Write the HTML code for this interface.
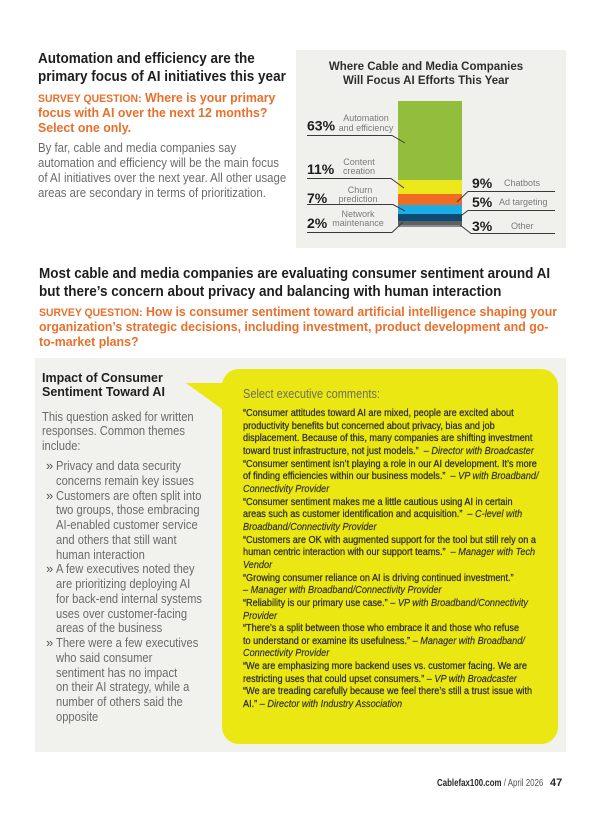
<!DOCTYPE html>
<html><head><meta charset="utf-8">
<style>
html,body{margin:0;padding:0;}
body{width:600px;height:819px;background:#ffffff;position:relative;overflow:hidden;font-family:"Liberation Sans",sans-serif;}
.t{position:absolute;white-space:nowrap;transform-origin:0 0;font-family:"Liberation Sans",sans-serif;}
.h{font-weight:bold;font-size:15px;line-height:18px;color:#1e1e1e;transform:scaleX(0.9);}
.q{font-weight:bold;font-size:13px;line-height:14.5px;color:#e8702c;transform:scaleX(0.95);}
.q .s{font-size:11px;}
.g{font-size:13px;color:#6b6b6b;}
.y{font-size:10.5px;line-height:12.65px;color:#2b2b2b;transform:scaleX(0.87);-webkit-text-stroke:0.25px #2b2b2b;}
.y i{-webkit-text-stroke:0.15px #2b2b2b;}
</style></head>
<body>

<!-- Top-left text -->
<div class="t h" style="left:38px;top:50px;">Automation and efficiency are the<br>primary focus of AI initiatives this year</div>
<div class="t q" style="left:38px;top:90.75px;"><span class="s">SURVEY QUESTION:</span> Where is your primary<br>focus with AI over the next 12 months?<br>Select one only.</div>
<div class="t g" style="left:38px;top:139.5px;line-height:15px;transform:scaleX(0.876);">By far, cable and media companies say<br>automation and efficiency will be the main focus<br>of AI initiatives over the next year. All other usage<br>areas are secondary in terms of prioritization.</div>

<!-- Chart -->
<svg style="position:absolute;left:296px;top:50px;" width="270" height="198" viewBox="296 50 270 198" xmlns="http://www.w3.org/2000/svg" font-family="Liberation Sans, sans-serif">
  <rect x="296" y="50" width="270" height="198" fill="#f0f0ed"/>
  <text x="426" y="70" text-anchor="middle" font-size="11.5" font-weight="bold" fill="#2e2e2e">Where Cable and Media Companies</text>
  <text x="426" y="84" text-anchor="middle" font-size="11.5" font-weight="bold" fill="#2e2e2e">Will Focus AI Efforts This Year</text>
  <rect x="398" y="101" width="64" height="79" fill="#93bd3c"/>
  <rect x="398" y="180" width="64" height="14" fill="#ede81b"/>
  <rect x="398" y="194" width="64" height="11" fill="#f06c23"/>
  <rect x="398" y="205" width="64" height="9" fill="#19afe6"/>
  <rect x="398" y="214" width="64" height="7" fill="#0f4a74"/>
  <rect x="398" y="221" width="64" height="4" fill="#5f6062"/>
  <rect x="398" y="225" width="64" height="2" fill="#8a8b8d"/>
  <g fill="none" stroke="#3a3a3a" stroke-width="1">
    <polyline points="307,135.5 392,135.5 405,143"/>
    <polyline points="307,178.5 391,178.5 404,188"/>
    <polyline points="307,204.5 393,204.5 405,211"/>
    <polyline points="307,232.5 392,232.5 403,222"/>
    <polyline points="555,191.5 468,191.5 457,202"/>
    <polyline points="555,210.5 468,210.5 458,218"/>
    <polyline points="555,233.5 471,233.5 460,225"/>
  </g>
  <g font-size="14" font-weight="bold" fill="#1e1e1e">
    <text x="307" y="130.5">63%</text>
    <text x="307" y="174">11%</text>
    <text x="307" y="203">7%</text>
    <text x="307" y="228">2%</text>
    <text x="472" y="188">9%</text>
    <text x="472" y="207">5%</text>
    <text x="472" y="231">3%</text>
  </g>
  <g font-size="9" fill="#7b7b7b" text-anchor="middle">
    <text x="366" y="121">Automation</text>
    <text x="366" y="131">and efficiency</text>
    <text x="359" y="165">Content</text>
    <text x="359" y="174">creation</text>
    <text x="360" y="193">Churn</text>
    <text x="358" y="202">prediction</text>
    <text x="358" y="217">Network</text>
    <text x="358" y="226">maintenance</text>
  </g>
  <g font-size="9" fill="#7b7b7b">
    <text x="504" y="186">Chatbots</text>
    <text x="499" y="205">Ad targeting</text>
    <text x="511" y="229">Other</text>
  </g>
</svg>

<!-- Section 2 heading -->
<div class="t h" style="left:39px;top:265px;">Most cable and media companies are evaluating consumer sentiment around AI<br>but there’s concern about privacy and balancing with human interaction</div>
<div class="t q" style="left:39px;top:304.75px;"><span class="s">SURVEY QUESTION:</span> How is consumer sentiment toward artificial intelligence shaping your<br>organization’s strategic decisions, including investment, product development and go-<br>to-market plans?</div>

<!-- Bottom panel -->
<div style="position:absolute;left:35px;top:358px;width:531px;height:394px;background:#f1f1ee;"></div>

<div class="t" style="left:42px;top:371px;font-weight:bold;font-size:12.5px;line-height:14px;color:#1f1f1f;">Impact of Consumer<br>Sentiment Toward AI</div>
<div class="t g" style="left:42px;top:409.75px;line-height:14.5px;transform:scaleX(0.86);">This question asked for written<br>responses. Common themes<br>include:</div>

<div class="t" style="left:46px;top:459px;font-size:13px;line-height:14.77px;color:#555;">»<br><br>»<br><br><br><br><br>»<br><br><br><br><br>»</div>
<div class="t g" style="left:56px;top:459px;line-height:14.77px;transform:scaleX(0.86);">Privacy and data security<br>concerns remain key issues<br>Customers are often split into<br>two groups, those embracing<br>AI-enabled customer service<br>and others that still want<br>human interaction<br>A few executives noted they<br>are prioritizing deploying AI<br>for back-end internal systems<br>uses over customer-facing<br>areas of the business<br>There were a few executives<br>who said consumer<br>sentiment has no impact<br>on their AI strategy, while a<br>number of others said the<br>opposite</div>

<!-- Yellow callout -->
<svg style="position:absolute;left:180px;top:378px;" width="50" height="40" viewBox="180 378 50 40" xmlns="http://www.w3.org/2000/svg">
  <polygon points="186,383 226,383 226,412" fill="#ebe713"/>
</svg>
<div style="position:absolute;left:222px;top:369px;width:336px;height:375px;background:#ebe713;border-radius:17px;"></div>

<div class="t" style="left:243px;top:387px;font-size:12.5px;line-height:14px;color:#6e6e5e;transform:scaleX(0.88);">Select executive comments:</div>
<div class="t y" style="left:243px;top:407px;">“Consumer attitudes toward AI are mixed, people are excited about<br>productivity benefits but concerned about privacy, bias and job<br>displacement. Because of this, many companies are shifting investment<br>toward trust infrastructure, not just models.”&nbsp; <i>– Director with Broadcaster</i><br>“Consumer sentiment isn’t playing a role in our AI development. It’s more<br>of finding efficiencies within our business models.”&nbsp; <i>– VP with Broadband/</i><br><i>Connectivity Provider</i><br>“Consumer sentiment makes me a little cautious using AI in certain<br>areas such as customer identification and acquisition.”&nbsp; <i>– C-level with</i><br><i>Broadband/Connectivity Provider</i><br>“Customers are OK with augmented support for the tool but still rely on a<br>human centric interaction with our support teams.”&nbsp; <i>– Manager with Tech</i><br><i>Vendor</i><br>“Growing consumer reliance on AI is driving continued investment.”<br><i>– Manager with Broadband/Connectivity Provider</i><br>“Reliability is our primary use case.” <i>– VP with Broadband/Connectivity</i><br><i>Provider</i><br>“There’s a split between those who embrace it and those who refuse<br>to understand or examine its usefulness.” <i>– Manager with Broadband/</i><br><i>Connectivity Provider</i><br>“We are emphasizing more backend uses vs. customer facing. We are<br>restricting uses that could upset consumers.” <i>– VP with Broadcaster</i><br>“We are treading carefully because we feel there’s still a trust issue with<br>AI.” <i>– Director with Industry Association</i></div>

<!-- Footer -->
<div class="t" style="left:437px;top:778px;font-size:10px;line-height:12px;color:#555;transform:scaleX(0.79);"><b style="color:#2a2a2a;">Cablefax100.com</b> / April 2026</div>
<div class="t" style="left:550px;top:777px;font-size:11px;line-height:13px;font-weight:bold;color:#2a2a2a;">47</div>

</body></html>
